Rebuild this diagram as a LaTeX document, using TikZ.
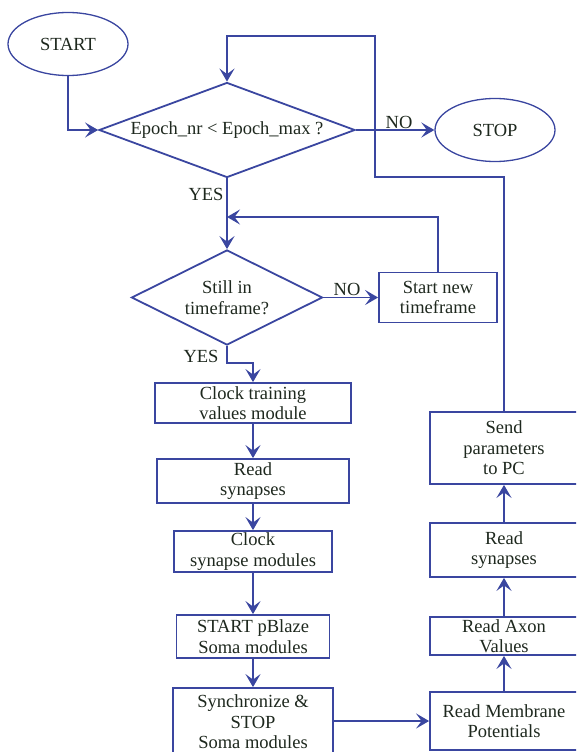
\documentclass[tikz,border=0pt]{standalone}
\usepackage{fontspec}
\setmainfont{Liberation Serif}
\usetikzlibrary{shapes.geometric,arrows.meta}
\definecolor{flowline}{RGB}{58,70,160}
\definecolor{flowtext}{RGB}{30,40,30}
\tikzset{
  base/.style={draw=flowline, line width=1.8pt, text=flowtext, inner sep=0pt,
    align=center, font=\fontsize{18.5}{20.5}\selectfont},
  terminal/.style={base, line width=1.3pt, ellipse, minimum width=120pt, minimum height=63pt},
  decision/.style={base, diamond, aspect=2.7},
  stepbox/.style={base, rectangle},
  lbl/.style={text=flowtext, inner sep=0pt, font=\fontsize{18.5}{20.5}\selectfont},
  arr/.style={draw=flowline, line width=1.8pt,
    -{Stealth[length=13pt,width=15pt,inset=5.5pt]}}
}
\begin{document}
\begin{tikzpicture}[x=1pt,y=-1pt]
\useasboundingbox (0,0) rectangle (576,752);
\clip (0,0) rectangle (576,752);

% terminals and decisions
\node[terminal] (start) at (68,44) {START};
\node[terminal] (stop) at (495,130) {STOP};
\node[decision, minimum width=256pt, minimum height=95pt] (d1) at (227,130) {Epoch\_nr < Epoch\_max ?};
\node[decision, minimum width=191pt, minimum height=95pt] (d2) at (227,297.5) {Still in\\timeframe?};
\node[stepbox, minimum width=118pt, minimum height=50pt] (snt) at (438,297.5) {Start new\\timeframe};

% left column
\node[stepbox, minimum width=196pt, minimum height=40pt] (ctv) at (253,403) {Clock training\\values module};
\node[stepbox, minimum width=192pt, minimum height=44pt] (rs1) at (253,481) {Read\\synapses};
\node[stepbox, minimum width=158pt, minimum height=41pt] (csm) at (253,551.5) {Clock\\synapse modules};
\node[stepbox, minimum width=153pt, minimum height=43pt] (spb) at (253,636.5) {START pBlaze\\Soma modules};
\node[stepbox, minimum width=160pt, minimum height=68pt] (sync) at (253,722) {Synchronize \&\\STOP\\Soma modules};

% right column
\node[stepbox, minimum width=148pt, minimum height=72pt] (send) at (504,448) {Send\\parameters\\to PC};
\node[stepbox, minimum width=148pt, minimum height=54pt] (rs2) at (504,550) {Read\\synapses};
\node[stepbox, minimum width=148pt, minimum height=38pt] (axon) at (504,636) {Read Axon\\Values};
\node[stepbox, minimum width=148pt, minimum height=58pt] (memb) at (504,721) {Read Membrane\\Potentials};

% bend points
\coordinate (j1) at (227,217);
\coordinate (b1) at (227,363);
\coordinate (r1) at (375,177);
\coordinate (r2) at (227,36);

% connectors
\draw[arr] (start.south) |- (d1.west);
\draw[arr] (d1.east) -- (stop.west);
\draw[arr] (d1.south) -- (d2.north);
\draw[arr] (d2.east) -- (snt.west);
\draw[arr] (snt.north) |- (j1);
\draw[arr] (d2.south) -- (b1) -| (ctv.north);
\draw[arr] (ctv.south) -- (rs1.north);
\draw[arr] (rs1.south) -- (csm.north);
\draw[arr] (csm.south) -- (spb.north);
\draw[arr] (spb.south) -- (sync.north);
\draw[arr] (sync.east |- memb.west) -- (memb.west);
\draw[arr] (memb.north) -- (axon.south);
\draw[arr] (axon.north) -- (rs2.south);
\draw[arr] (rs2.north) -- (send.south);
\draw[arr] (send.north) |- (r1) |- (r2) -- (d1.north);

% branch labels
\node[lbl] (no1) at (399,122) {NO};
\node[lbl] (yes1) at (206,194) {YES};
\node[lbl] (no2) at (347,289) {NO};
\node[lbl] (yes2) at (201,356) {YES};
\end{tikzpicture}
\end{document}
